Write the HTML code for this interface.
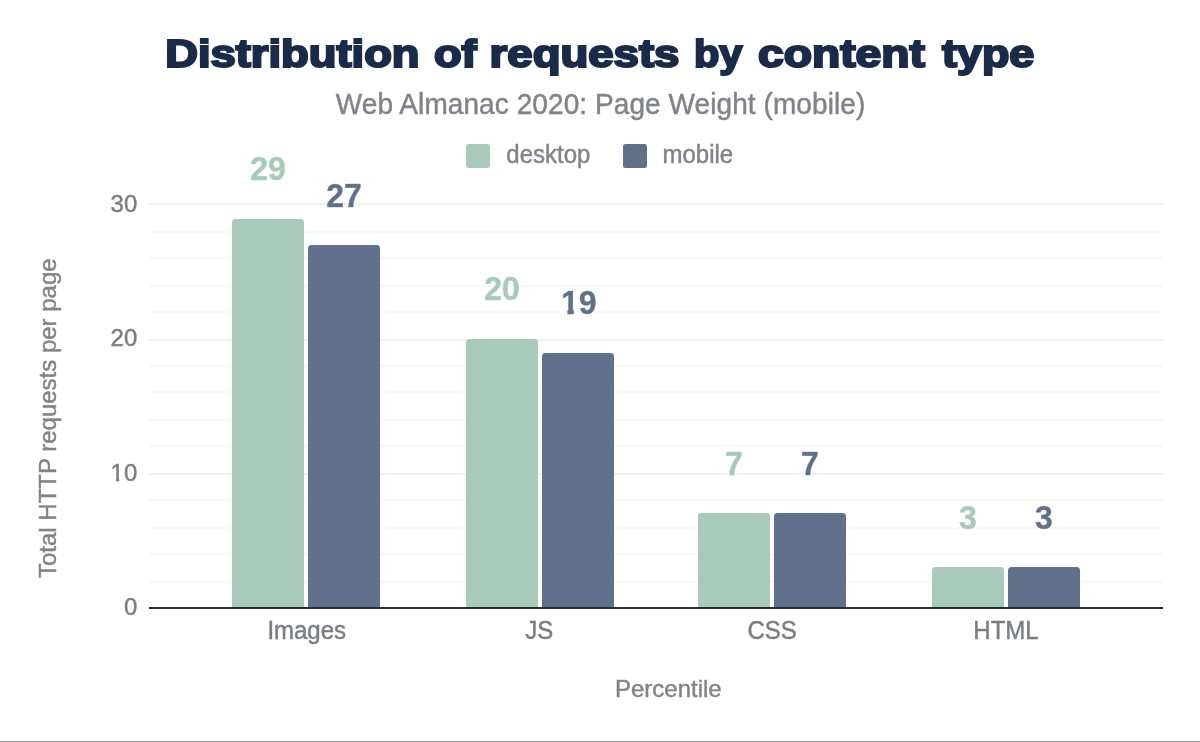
<!DOCTYPE html>
<html lang="en">
<head>
<meta charset="utf-8">
<title>Distribution of requests by content type</title>
<style>
html,body{margin:0;padding:0;background:#fff;}
body{width:1200px;height:742px;overflow:hidden;position:relative;font-family:"Liberation Sans",sans-serif;}
svg{display:block;position:absolute;left:0;top:0;}
.t{font-family:"Liberation Sans",sans-serif;}
</style>
</head>
<body>
<svg width="1200" height="742" viewBox="0 0 1200 742">
<rect x="0" y="0" width="1200" height="742" fill="#ffffff"/>
<defs>
<filter id="halo" x="-20%" y="-20%" width="140%" height="140%">
<feMorphology in="SourceAlpha" operator="dilate" radius="1.4" result="d"/>
<feFlood flood-color="#ffffff" result="w"/>
<feComposite in="w" in2="d" operator="in" result="h"/>
<feMerge><feMergeNode in="h"/><feMergeNode in="SourceGraphic"/></feMerge>
</filter>
<clipPath id="c10"><rect x="100" y="455" width="60" height="22.8"/><rect x="116" y="477" width="3.2" height="8"/><rect x="123.6" y="477" width="30" height="8"/></clipPath>
<clipPath id="c19"><rect x="550" y="280" width="60" height="29.8"/><rect x="567.4" y="309" width="6.4" height="8"/><rect x="579.3" y="309" width="30" height="8"/></clipPath>
</defs>
<!-- bottom border -->
<rect x="0" y="741" width="1200" height="1" fill="#929599"/>
<!-- title -->
<text id="title" class="t" y="66.8" font-size="39.2" font-weight="bold" fill="#1a2b49" stroke="#1a2b49" stroke-width="2.2" stroke-linejoin="miter" stroke-miterlimit="3"><tspan x="165.22" textLength="254.33" lengthAdjust="spacingAndGlyphs">Distribution</tspan> <tspan x="433.9" textLength="42.69" lengthAdjust="spacingAndGlyphs">of</tspan> <tspan x="489.59" textLength="189.88" lengthAdjust="spacingAndGlyphs">requests</tspan> <tspan x="693.98" textLength="48.52" lengthAdjust="spacingAndGlyphs">by</tspan> <tspan x="757.94" textLength="167.06" lengthAdjust="spacingAndGlyphs">content</tspan> <tspan x="942.0" textLength="92.34" lengthAdjust="spacingAndGlyphs">type</tspan></text>
<!-- subtitle -->
<text id="sub" class="t" transform="translate(600.5,113.5) scale(1,1.075)" font-size="28" text-anchor="middle" fill="#808489" stroke="#808489" stroke-width="0.45" textLength="529.5" lengthAdjust="spacing">Web Almanac 2020: Page Weight (mobile)</text>
<!-- legend -->
<rect x="466" y="144" width="24" height="24" rx="2.5" fill="#a8cabb"/>
<text id="lg1" class="t" transform="translate(506.3,162.6) scale(1,1.055)" font-size="24" fill="#808489" stroke="#808489" stroke-width="0.45">desktop</text>
<rect x="623" y="144" width="24" height="24" rx="2.5" fill="#61708b"/>
<text id="lg2" class="t" transform="translate(662.5,162.6) scale(1,1.055)" font-size="24" fill="#808489" stroke="#808489" stroke-width="0.45">mobile</text>
<!-- gridlines -->
<g fill="#f7f7f7">
<rect x="149" y="231" width="1014" height="2"/>
<rect x="149" y="257" width="1014" height="2"/>
<rect x="149" y="285" width="1014" height="2"/>
<rect x="149" y="311" width="1014" height="2"/>
<rect x="149" y="365" width="1014" height="2"/>
<rect x="149" y="391" width="1014" height="2"/>
<rect x="149" y="419" width="1014" height="2"/>
<rect x="149" y="445" width="1014" height="2"/>
<rect x="149" y="499" width="1014" height="2"/>
<rect x="149" y="527" width="1014" height="2"/>
<rect x="149" y="553" width="1014" height="2"/>
<rect x="149" y="581" width="1014" height="2"/>
</g>
<g fill="#f0f0f0">
<rect x="149" y="203" width="1014" height="2"/>
<rect x="149" y="339" width="1014" height="2"/>
<rect x="149" y="473" width="1014" height="2"/>
</g>
<!-- bars -->
<g fill="#a8cabb">
<path d="M232 607.5V222.5a3.5 3.5 0 0 1 3.5-3.5h65.0a3.5 3.5 0 0 1 3.5 3.5V607.5z"/>
<path d="M466 607.5V342.5a3.5 3.5 0 0 1 3.5-3.5h65.0a3.5 3.5 0 0 1 3.5 3.5V607.5z"/>
<path d="M698 607.5V516.5a3.5 3.5 0 0 1 3.5-3.5h65.0a3.5 3.5 0 0 1 3.5 3.5V607.5z"/>
<path d="M932 607.5V570.5a3.5 3.5 0 0 1 3.5-3.5h65.0a3.5 3.5 0 0 1 3.5 3.5V607.5z"/>
</g>
<g fill="#61708b">
<path d="M308 607.5V248.5a3.5 3.5 0 0 1 3.5-3.5h65.0a3.5 3.5 0 0 1 3.5 3.5V607.5z"/>
<path d="M542 607.5V356.5a3.5 3.5 0 0 1 3.5-3.5h65.0a3.5 3.5 0 0 1 3.5 3.5V607.5z"/>
<path d="M774 607.5V516.5a3.5 3.5 0 0 1 3.5-3.5h65.0a3.5 3.5 0 0 1 3.5 3.5V607.5z"/>
<path d="M1008 607.5V570.5a3.5 3.5 0 0 1 3.5-3.5h65.0a3.5 3.5 0 0 1 3.5 3.5V607.5z"/>
</g>
<!-- baseline -->
<rect x="149" y="607" width="1014" height="2" fill="#2b2b2b"/>
<!-- data labels -->
<g filter="url(#halo)">
<text id="d1" class="t" transform="translate(268,179.8) scale(1,1.065)" font-size="32" font-weight="bold" text-anchor="middle" fill="#a8cabb" stroke="#a8cabb" stroke-width="0.5">29</text>
<text id="d2" class="t" transform="translate(344,206.8) scale(1,1.065)" font-size="32" font-weight="bold" text-anchor="middle" fill="#61708b" stroke="#61708b" stroke-width="0.5">27</text>
<text id="d3" class="t" transform="translate(502,300.4) scale(1,1.065)" font-size="32" font-weight="bold" text-anchor="middle" fill="#a8cabb" stroke="#a8cabb" stroke-width="0.5">20</text>
<rect x="561" y="309.8" width="19" height="5.5" fill="#ffffff" stroke="none"/>
<g clip-path="url(#c19)"><text id="d4" class="t" transform="translate(578.7,313.8) scale(1,1.065)" font-size="32" font-weight="bold" text-anchor="middle" fill="#61708b" stroke="#61708b" stroke-width="0.5">19</text></g>
<text id="d5" class="t" transform="translate(733.8,474.8) scale(1,1.065)" font-size="32" font-weight="bold" text-anchor="middle" fill="#a8cabb" stroke="#a8cabb" stroke-width="0.5">7</text>
<text id="d6" class="t" transform="translate(809.9,474.8) scale(1,1.065)" font-size="32" font-weight="bold" text-anchor="middle" fill="#61708b" stroke="#61708b" stroke-width="0.5">7</text>
<text id="d7" class="t" transform="translate(967.8,528.8) scale(1,1.065)" font-size="32" font-weight="bold" text-anchor="middle" fill="#a8cabb" stroke="#a8cabb" stroke-width="0.5">3</text>
<text id="d8" class="t" transform="translate(1044,528.8) scale(1,1.065)" font-size="32" font-weight="bold" text-anchor="middle" fill="#61708b" stroke="#61708b" stroke-width="0.5">3</text>
</g>
<!-- y axis -->
<text id="y30" class="t" transform="translate(137.3,211.8) scale(1,1.035)" font-size="24" text-anchor="end" fill="#7a7e83" stroke="#7a7e83" stroke-width="0.45">30</text>
<text id="y20" class="t" transform="translate(137.3,346.2) scale(1,1.035)" font-size="24" text-anchor="end" fill="#7a7e83" stroke="#7a7e83" stroke-width="0.45">20</text>
<g clip-path="url(#c10)"><text id="y10" class="t" transform="translate(137.3,480.6) scale(1,1.035)" font-size="24" text-anchor="end" fill="#7a7e83" stroke="#7a7e83" stroke-width="0.45">10</text></g>
<text id="y0" class="t" transform="translate(137.3,615) scale(1,1.035)" font-size="24" text-anchor="end" fill="#7a7e83" stroke="#7a7e83" stroke-width="0.45">0</text>
<!-- x axis -->
<text id="x1" class="t" transform="translate(306.7,639.2) scale(1,1.045)" font-size="24" text-anchor="middle" fill="#7a7e83" stroke="#7a7e83" stroke-width="0.45">Images</text>
<text id="x2" class="t" transform="translate(539.2,639.2) scale(1,1.045)" font-size="24" text-anchor="middle" fill="#7a7e83" stroke="#7a7e83" stroke-width="0.45">JS</text>
<text id="x3" class="t" transform="translate(772.2,639.2) scale(1,1.045)" font-size="24" text-anchor="middle" fill="#7a7e83" stroke="#7a7e83" stroke-width="0.45">CSS</text>
<text id="x4" class="t" transform="translate(1006,639.2) scale(1,1.045)" font-size="24" text-anchor="middle" fill="#7a7e83" stroke="#7a7e83" stroke-width="0.45">HTML</text>
<text id="xt" class="t" transform="translate(668.3,696.8) scale(1,1.03)" font-size="24" text-anchor="middle" fill="#808489" stroke="#808489" stroke-width="0.45">Percentile</text>
<text id="yt" class="t" transform="translate(56,418.2) rotate(-90) scale(1,1.02)" font-size="24" text-anchor="middle" fill="#808489" stroke="#808489" stroke-width="0.45">Total HTTP requests per page</text>
</svg>
</body>
</html>
